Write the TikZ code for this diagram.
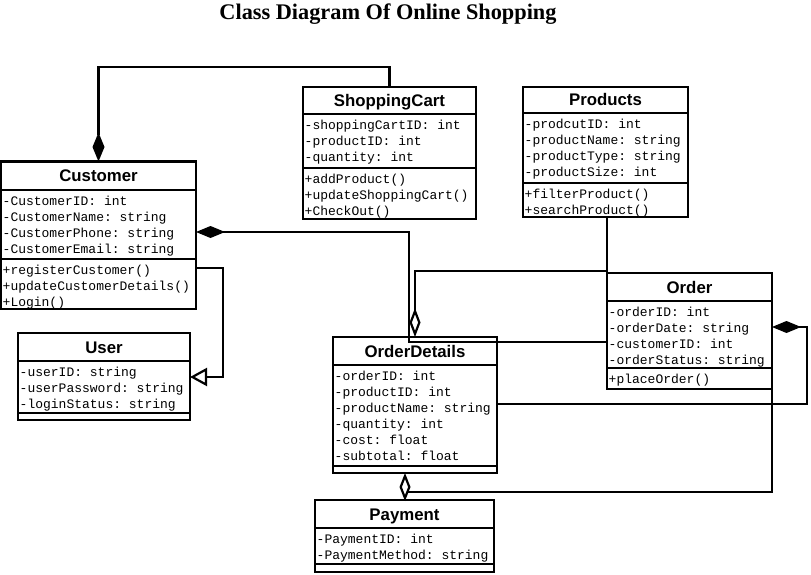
\documentclass[tikz,border=0pt]{standalone}
\usepackage{fontspec}
\newfontfamily\hdrfont{Liberation Sans}
\newfontfamily\rowfont{Liberation Mono}
\newfontfamily\ttlfont{Liberation Serif}
\usetikzlibrary{arrows.meta,fit}
\tikzset{
  classbox/.style={draw, line width=2.1pt, inner sep=0pt, outer sep=0pt, fill=white},
  boxline/.style={line width=2.1pt},
  classname/.style={font=\hdrfont\bfseries\fontsize{16.8}{16.8}\selectfont, anchor=base, inner sep=0pt},
  rowtext/.style={font=\rowfont\fontsize{13}{13}\selectfont\frenchspacing, anchor=base west, inner sep=0pt},
  conn/.style={line width=2.2pt},
  compend/.style={conn, -{Diamond[length=29pt,width=12pt,fill=black]}},
  compstart/.style={conn, {Diamond[length=29pt,width=12pt,fill=black]}-},
  aggend/.style={conn, -{Diamond[length=29pt,width=11pt,fill=white]}},
  aggstart/.style={conn, {Diamond[length=28pt,width=11pt,fill=white]}-},
  genend/.style={conn, -{Triangle[length=17pt,width=18pt,fill=white]}},
}
% name, x1, y1, x2, y2, header bottom, separator, title
\newcommand\umlbox[8]{%
  \node[classbox, fit={(#2,#3) (#4,#5)}] (#1) {};
  \node[classname] (#1-name) at ({(#2+#4)/2},{(#3+#6)/2+6}) {#8};
  \draw[boxline] (#2,#6) -- (#4,#6);
  \draw[boxline] (#2,#7) -- (#4,#7);
}
% prefix, x, first baseline, list
\newcommand\umlrows[4]{%
  \foreach \t [count=\i from 0] in {#4}
    \node[rowtext] (#1\i) at ({#2+1.5},{#3+16*\i}) {\t};
}
\begin{document}
\begin{tikzpicture}[x=1pt,y=-1pt]
\path[use as bounding box, fill=white] (0,0) rectangle (811,575);

\node[font=\ttlfont\bfseries\fontsize{22.3}{22.3}\selectfont, anchor=base, inner sep=0pt] (title) at (388,19.5) {Class Diagram Of Online Shopping};

% Customer
\umlbox{cust}{1}{161.5}{196}{309}{190}{259}{Customer}
\umlrows{cust-a}{1}{205.5}{-CustomerID: int,-CustomerName: string,-CustomerPhone: string,-CustomerEmail: string}
\umlrows{cust-m}{1}{274}{+registerCustomer(),+updateCustomerDetails(),+Login()}

% ShoppingCart
\umlbox{cart}{303}{87}{476}{219}{114}{168}{ShoppingCart}
\umlrows{cart-a}{303}{129.5}{-shoppingCartID: int,-productID: int,-quantity: int}
\umlrows{cart-m}{303}{183}{+addProduct(),+updateShoppingCart(),+CheckOut()}

% Products
\umlbox{prod}{523}{87}{688}{217}{113}{183}{Products}
\umlrows{prod-a}{523}{128.5}{-prodcutID: int,-productName: string,-productType: string,-productSize: int}
\umlrows{prod-m}{523}{198}{+filterProduct(),+searchProduct()}

% User
\umlbox{user}{18}{333}{190}{420}{361}{413}{User}
\umlrows{user-a}{18}{376.5}{-userID: string,-userPassword: string,-loginStatus: string}

% Order
\umlbox{order}{607}{273}{772}{389}{301}{368}{Order}
\umlrows{order-a}{607}{316.5}{-orderID: int,-orderDate: string,-customerID: int,-orderStatus: string}
\umlrows{order-m}{607}{383}{+placeOrder()}

% OrderDetails
\umlbox{od}{333}{337}{497}{473}{365}{466}{OrderDetails}
\umlrows{od-a}{333}{380.5}{-orderID: int,-productID: int,-productName: string,-quantity: int,-cost: float,-subtotal: float}

% Payment
\umlbox{pay}{315}{500}{494}{572}{528}{564}{Payment}
\umlrows{pay-a}{315}{543.5}{-PaymentID: int,-PaymentMethod: string}

% connectors
\draw[compend] (cart.north) -- ++(0,-20) -| (cust.north);
\draw[compstart] (cust.east |- 0,232) -- (409,232) -- (409,342) -- (order.west |- 0,342);
\draw[genend] (cust.east |- 0,268) -- (223,268) -- (223,377) -- (user.east |- 0,377);
\draw[aggend] (prod.south -| 607,0) -- (607,271) -- (415,271) -- (od.north -| 415,0);
\draw[compend] (od.east |- 0,404) -- (807,404) -- (807,327) -- (order.east |- 0,327);
\draw[conn] (order.south east) -- (772,492) -- (405,492) -- (pay.north -| 405,0);
\draw[aggstart] (od.south -| 405,0) -- (pay.north -| 405,0);
\end{tikzpicture}
\end{document}
